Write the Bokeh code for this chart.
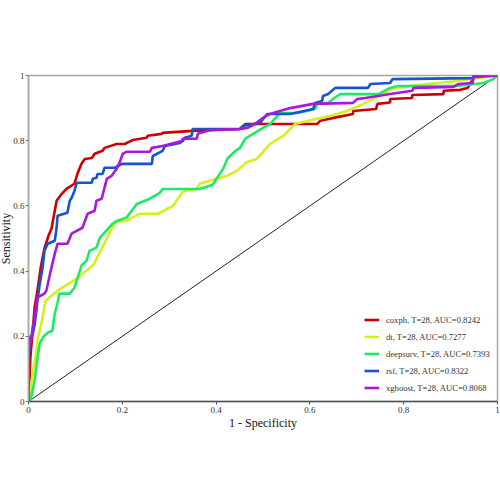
from bokeh.plotting import figure
from bokeh.models import FixedTicker, Legend, LegendItem, Title
from bokeh.embed import file_html
from bokeh.resources import INLINE

tick_vals = [0, 0.2, 0.4, 0.6, 0.8, 1]
tick_labels = ["0", "0.2", "0.4", "0.6", "0.8", "1"]

coxph_fpr = [0, 0, 0.002, 0.004, 0.009, 0.013, 0.019, 0.026, 0.034, 0.043, 0.049, 0.056, 0.060, 0.071, 0.081,
             0.098, 0.105, 0.113, 0.120, 0.135, 0.141, 0.158, 0.162, 0.188, 0.205, 0.222, 0.252, 0.254, 0.284,
             0.286, 0.350, 0.451, 0.462, 0.615, 0.622, 0.650, 0.692, 0.692, 0.741, 0.744, 0.771, 0.771, 0.818,
             0.818, 0.885, 0.885, 0.921, 0.936, 0.942, 0.947, 0.951, 1]
coxph_tpr = [0, 0.049, 0.064, 0.135, 0.217, 0.288, 0.340, 0.410, 0.470, 0.510, 0.530, 0.585, 0.616, 0.637, 0.652,
             0.668, 0.701, 0.729, 0.744, 0.747, 0.760, 0.769, 0.778, 0.790, 0.790, 0.802, 0.809, 0.815, 0.821,
             0.824, 0.830, 0.836, 0.851, 0.851, 0.861, 0.870, 0.882, 0.891, 0.897, 0.913, 0.917, 0.928, 0.931,
             0.940, 0.943, 0.953, 0.956, 0.962, 0.974, 0.992, 1.0, 1.0]

dt_fpr = [0, 0.002, 0.006, 0.011, 0.017, 0.019, 0.030, 0.036, 0.062, 0.103, 0.137, 0.141, 0.184, 0.199, 0.209,
          0.237, 0.276, 0.308, 0.327, 0.333, 0.359, 0.365, 0.393, 0.423, 0.444, 0.466, 0.487, 0.515, 0.543,
          0.568, 0.615, 0.643, 0.679, 0.714, 0.756, 0.778, 0.872, 0.915, 1]
dt_tpr = [0, 0.012, 0.055, 0.104, 0.156, 0.187, 0.257, 0.309, 0.340, 0.377, 0.417, 0.426, 0.548, 0.554, 0.554,
          0.576, 0.576, 0.600, 0.640, 0.646, 0.652, 0.668, 0.680, 0.692, 0.707, 0.735, 0.744, 0.790, 0.815,
          0.851, 0.867, 0.876, 0.891, 0.913, 0.943, 0.962, 0.977, 0.983, 1]

deepsurv_fpr = [0, 0.004, 0.009, 0.013, 0.017, 0.019, 0.024, 0.032, 0.041, 0.051, 0.056, 0.062, 0.066, 0.088,
                0.098, 0.105, 0.113, 0.124, 0.130, 0.145, 0.152, 0.179, 0.188, 0.209, 0.231, 0.259, 0.280, 0.286,
                0.365, 0.393, 0.402, 0.415, 0.425, 0.442, 0.451, 0.462, 0.472, 0.500, 0.515, 0.536, 0.575, 0.611,
                0.615, 0.639, 0.658, 0.665, 0.746, 0.771, 0.786, 0.915, 0.970, 0.991, 1]
deepsurv_tpr = [0, 0.003, 0.034, 0.064, 0.107, 0.132, 0.178, 0.199, 0.211, 0.217, 0.270, 0.303, 0.331, 0.331,
                0.349, 0.380, 0.417, 0.432, 0.462, 0.472, 0.502, 0.545, 0.554, 0.564, 0.606, 0.622, 0.640, 0.652,
                0.652, 0.665, 0.686, 0.714, 0.747, 0.769, 0.778, 0.806, 0.815, 0.839, 0.851, 0.885, 0.885, 0.897,
                0.913, 0.916, 0.937, 0.943, 0.943, 0.962, 0.968, 0.968, 0.977, 0.989, 1]

rsf_fpr = [0, 0, 0.002, 0.004, 0.009, 0.013, 0.017, 0.019, 0.024, 0.030, 0.034, 0.041, 0.056, 0.060, 0.062,
           0.083, 0.088, 0.092, 0.098, 0.103, 0.135, 0.137, 0.145, 0.147, 0.158, 0.162, 0.184, 0.199, 0.263,
           0.265, 0.286, 0.291, 0.323, 0.329, 0.333, 0.348, 0.350, 0.451, 0.457, 0.494, 0.509, 0.558, 0.607,
           0.611, 0.626, 0.628, 0.639, 0.654, 0.724, 0.729, 0.771, 0.776, 0.947, 0.949, 1]
rsf_tpr = [0, 0.095, 0.172, 0.199, 0.205, 0.236, 0.279, 0.309, 0.361, 0.410, 0.462, 0.484, 0.493, 0.533, 0.570,
           0.579, 0.616, 0.625, 0.646, 0.671, 0.671, 0.683, 0.686, 0.698, 0.698, 0.717, 0.717, 0.729, 0.729,
           0.753, 0.769, 0.784, 0.793, 0.799, 0.809, 0.815, 0.836, 0.836, 0.845, 0.855, 0.882, 0.882, 0.897,
           0.916, 0.922, 0.937, 0.943, 0.962, 0.962, 0.974, 0.977, 0.989, 0.992, 1.0, 1]

xgboost_fpr = [0, 0, 0.002, 0.006, 0.009, 0.013, 0.019, 0.034, 0.038, 0.045, 0.051, 0.056, 0.062, 0.083, 0.092,
               0.115, 0.126, 0.141, 0.145, 0.156, 0.167, 0.177, 0.188, 0.194, 0.201, 0.209, 0.259, 0.263, 0.286,
               0.327, 0.329, 0.359, 0.361, 0.387, 0.451, 0.466, 0.483, 0.500, 0.515, 0.536, 0.558, 0.607, 0.692,
               0.701, 0.718, 0.771, 0.818, 0.821, 0.906, 0.917, 0.947, 0.949, 1]
xgboost_tpr = [0, 0.150, 0.165, 0.196, 0.227, 0.257, 0.319, 0.331, 0.340, 0.386, 0.423, 0.453, 0.484, 0.484, 0.515,
               0.533, 0.576, 0.585, 0.616, 0.622, 0.683, 0.692, 0.714, 0.732, 0.760, 0.766, 0.766, 0.778, 0.784,
               0.799, 0.806, 0.806, 0.821, 0.833, 0.836, 0.839, 0.851, 0.870, 0.882, 0.891, 0.900, 0.913, 0.916,
               0.928, 0.931, 0.943, 0.953, 0.962, 0.965, 0.974, 0.977, 0.995, 1]

diag = [0, 1]

series_names = ["coxph, T=28, AUC=0.8242", "dt, T=28, AUC=0.7277", "deepsurv, T=28, AUC=0.7393",
                "rsf, T=28, AUC=0.8322", "xgboost, T=28, AUC=0.8068"]
series_colors = ["#cc0000", "#d6ef1e", "#1fea66", "#1555d0", "#aa18dd"]
series_x = [coxph_fpr, dt_fpr, deepsurv_fpr, rsf_fpr, xgboost_fpr]
series_y = [coxph_tpr, dt_tpr, deepsurv_tpr, rsf_tpr, xgboost_tpr]

FONT = "Liberation Serif"

p = figure(width=502, height=500, x_range=(0, 1), y_range=(0, 1),
           output_backend="svg", toolbar_location=None, margin=(0, 0, 0, -2),
           min_border_left=29, min_border_right=3, min_border_top=75, min_border_bottom=99)
p.grid.visible = False
p.outline_line_color = "#a8a8a8"
p.outline_line_width = 1.5
p.background_fill_color = "white"
p.border_fill_color = "white"

p.line(diag, diag, line_color="#222222", line_width=1)

items = []
for name, col, xs, ys in zip(series_names, series_colors, series_x, series_y):
    r = p.line(xs, ys, line_color=col, line_width=2.6)
    items.append(LegendItem(label=name, renderers=[r]))

for ax in (p.xaxis[0], p.yaxis[0]):
    ax.ticker = FixedTicker(ticks=tick_vals)
    ax.major_label_overrides = dict(zip(tick_vals, tick_labels))
    ax.minor_tick_line_color = None
    ax.major_tick_in = 0
    ax.major_tick_out = 3
    ax.major_label_text_font = FONT
    ax.major_label_text_font_size = "9px"
    ax.major_label_text_color = "#333333"
    ax.major_label_standoff = 2
    ax.axis_label_text_font = FONT
    ax.axis_label_text_font_size = "12px"
    ax.axis_label_text_font_style = "normal"
    ax.axis_label_text_color = "#111111"
    ax.axis_label_standoff = 0

p.yaxis.major_label_standoff = 1
p.xaxis.axis_label = "1 - Specificity"
p.xaxis.axis_line_color = "#555555"
p.xaxis.major_tick_line_color = "#555555"
p.yaxis.axis_line_color = "#a8a8a8"
p.yaxis.major_tick_line_color = "#777777"
p.xaxis.axis_line_width = 1.5
p.yaxis.axis_line_width = 1.5

ytitle = Title(text="Sensitivity", align="center", text_font=FONT, text_font_size="12px",
               text_font_style="normal", text_color="#111111", standoff=-4, offset=0)
p.add_layout(ytitle, "left")

legend = Legend(items=items, location=(336, 5))
legend.border_line_color = None
legend.background_fill_alpha = 0
legend.padding = 0
legend.margin = 0
legend.spacing = 0
legend.glyph_width = 15
legend.glyph_height = 17
legend.label_height = 17
legend.label_standoff = 7
legend.label_text_font = FONT
legend.label_text_font_size = "8.6px"
legend.label_text_color = "#333333"
p.add_layout(legend, "center")

open("out.html", "w").write(file_html(p, INLINE))
